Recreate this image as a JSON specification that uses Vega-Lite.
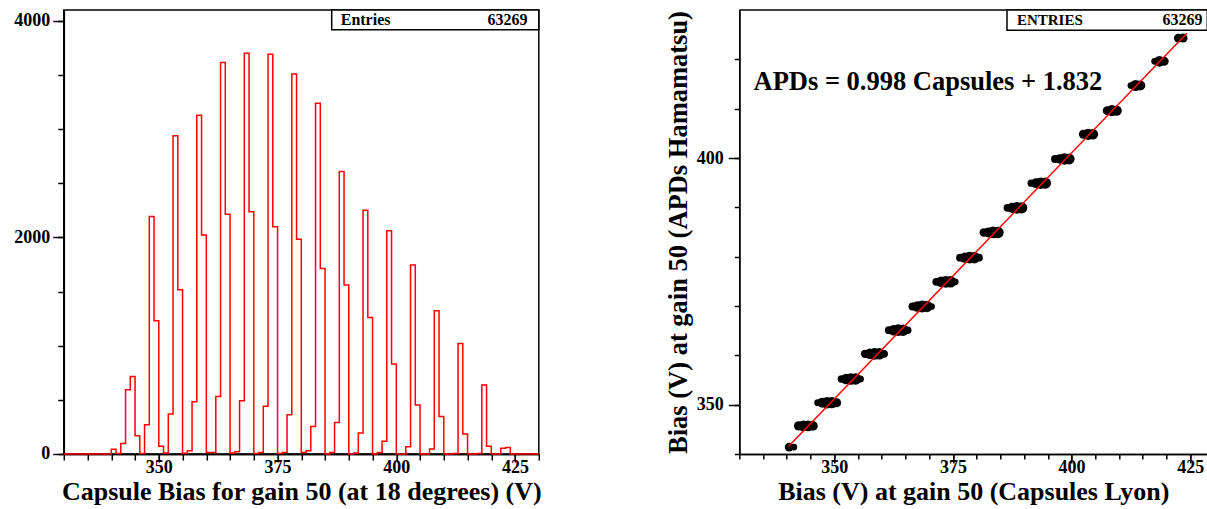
{
  "$schema": "https://vega.github.io/schema/vega-lite/v6.json",
  "background": "white",
  "padding": {"left": 12.8, "top": 8, "right": 0, "bottom": 0},
  "spacing": 122.5,
  "config": {
    "font": "Liberation Serif",
    "view": {"stroke": "black", "strokeWidth": 1.5},
    "axis": {
      "grid": false,
      "domainColor": "black",
      "domainWidth": 1.5,
      "tickColor": "black",
      "tickWidth": 1.5,
      "labelFont": "Liberation Serif",
      "labelFontWeight": "bold",
      "labelFontSize": 18,
      "labelColor": "black",
      "titleFont": "Liberation Serif",
      "titleFontWeight": "bold",
      "titleFontSize": 26,
      "titleColor": "black",
      "labelOverlap": false,
      "labelFlush": false
    }
  },
  "datasets": {
    "hist": [
      {"bias": 330, "entries": 0}, {"bias": 331, "entries": 0}, {"bias": 332, "entries": 0}, {"bias": 333, "entries": 0},
      {"bias": 334, "entries": 0}, {"bias": 335, "entries": 0}, {"bias": 336, "entries": 0}, {"bias": 337, "entries": 0},
      {"bias": 338, "entries": 0}, {"bias": 339, "entries": 0}, {"bias": 340, "entries": 45}, {"bias": 341, "entries": 5},
      {"bias": 342, "entries": 98}, {"bias": 343, "entries": 593}, {"bias": 344, "entries": 716}, {"bias": 345, "entries": 169},
      {"bias": 346, "entries": 5}, {"bias": 347, "entries": 270}, {"bias": 348, "entries": 2193}, {"bias": 349, "entries": 1230},
      {"bias": 350, "entries": 71}, {"bias": 351, "entries": 10}, {"bias": 352, "entries": 369}, {"bias": 353, "entries": 2938},
      {"bias": 354, "entries": 1517}, {"bias": 355, "entries": 8}, {"bias": 356, "entries": 31}, {"bias": 357, "entries": 483},
      {"bias": 358, "entries": 3129}, {"bias": 359, "entries": 2022}, {"bias": 360, "entries": 15}, {"bias": 361, "entries": 15},
      {"bias": 362, "entries": 532}, {"bias": 363, "entries": 3615}, {"bias": 364, "entries": 2215}, {"bias": 365, "entries": 10},
      {"bias": 366, "entries": 20}, {"bias": 367, "entries": 492}, {"bias": 368, "entries": 3701}, {"bias": 369, "entries": 2237},
      {"bias": 370, "entries": 5}, {"bias": 371, "entries": 15}, {"bias": 372, "entries": 440}, {"bias": 373, "entries": 3692},
      {"bias": 374, "entries": 2098}, {"bias": 375, "entries": 5}, {"bias": 376, "entries": 15}, {"bias": 377, "entries": 363},
      {"bias": 378, "entries": 3508}, {"bias": 379, "entries": 1984}, {"bias": 380, "entries": 15}, {"bias": 381, "entries": 31},
      {"bias": 382, "entries": 255}, {"bias": 383, "entries": 3240}, {"bias": 384, "entries": 1713}, {"bias": 385, "entries": 0},
      {"bias": 386, "entries": 15}, {"bias": 387, "entries": 292}, {"bias": 388, "entries": 2609}, {"bias": 389, "entries": 1560},
      {"bias": 390, "entries": 0}, {"bias": 391, "entries": 10}, {"bias": 392, "entries": 194}, {"bias": 393, "entries": 2252},
      {"bias": 394, "entries": 1261}, {"bias": 395, "entries": 0}, {"bias": 396, "entries": 15}, {"bias": 397, "entries": 117},
      {"bias": 398, "entries": 2061}, {"bias": 399, "entries": 831}, {"bias": 400, "entries": 0}, {"bias": 401, "entries": 0},
      {"bias": 402, "entries": 68}, {"bias": 403, "entries": 1745}, {"bias": 404, "entries": 452}, {"bias": 405, "entries": 0},
      {"bias": 406, "entries": 0}, {"bias": 407, "entries": 46}, {"bias": 408, "entries": 1323}, {"bias": 409, "entries": 347},
      {"bias": 410, "entries": 0}, {"bias": 411, "entries": 0}, {"bias": 412, "entries": 5}, {"bias": 413, "entries": 1021},
      {"bias": 414, "entries": 185}, {"bias": 415, "entries": 0}, {"bias": 416, "entries": 0}, {"bias": 417, "entries": 5},
      {"bias": 418, "entries": 637}, {"bias": 419, "entries": 71}, {"bias": 420, "entries": 0}, {"bias": 421, "entries": 0},
      {"bias": 422, "entries": 52}, {"bias": 423, "entries": 61}, {"bias": 424, "entries": 0}, {"bias": 425, "entries": 0},
      {"bias": 426, "entries": 0}, {"bias": 427, "entries": 0}, {"bias": 428, "entries": 0}, {"bias": 429, "entries": 0},
      {"bias": 430, "entries": 0}
    ],
    "scatter": [
      {"capsule": 340.5, "apd": 341.4, "n": 45}, {"capsule": 341.5, "apd": 341.4, "n": 5},
      {"capsule": 342.5, "apd": 345.7, "n": 98}, {"capsule": 343.5, "apd": 345.7, "n": 593}, {"capsule": 344.5, "apd": 345.7, "n": 716}, {"capsule": 345.5, "apd": 345.7, "n": 169},
      {"capsule": 346.5, "apd": 350.4, "n": 5}, {"capsule": 347.5, "apd": 350.4, "n": 270}, {"capsule": 348.5, "apd": 350.4, "n": 2193}, {"capsule": 349.5, "apd": 350.4, "n": 1230}, {"capsule": 350.5, "apd": 350.4, "n": 71},
      {"capsule": 351.5, "apd": 355.2, "n": 10}, {"capsule": 352.5, "apd": 355.2, "n": 369}, {"capsule": 353.5, "apd": 355.2, "n": 2938}, {"capsule": 354.5, "apd": 355.2, "n": 1517}, {"capsule": 355.5, "apd": 355.2, "n": 8},
      {"capsule": 356.5, "apd": 360.3, "n": 31}, {"capsule": 357.5, "apd": 360.3, "n": 483}, {"capsule": 358.5, "apd": 360.3, "n": 3129}, {"capsule": 359.5, "apd": 360.3, "n": 2022}, {"capsule": 360.5, "apd": 360.3, "n": 15},
      {"capsule": 361.5, "apd": 365.1, "n": 15}, {"capsule": 362.5, "apd": 365.1, "n": 532}, {"capsule": 363.5, "apd": 365.1, "n": 3615}, {"capsule": 364.5, "apd": 365.1, "n": 2215}, {"capsule": 365.5, "apd": 365.1, "n": 10},
      {"capsule": 366.5, "apd": 369.9, "n": 20}, {"capsule": 367.5, "apd": 369.9, "n": 492}, {"capsule": 368.5, "apd": 369.9, "n": 3701}, {"capsule": 369.5, "apd": 369.9, "n": 2237}, {"capsule": 370.5, "apd": 369.9, "n": 5},
      {"capsule": 371.5, "apd": 374.9, "n": 15}, {"capsule": 372.5, "apd": 374.9, "n": 440}, {"capsule": 373.5, "apd": 374.9, "n": 3692}, {"capsule": 374.5, "apd": 374.9, "n": 2098}, {"capsule": 375.5, "apd": 374.9, "n": 5},
      {"capsule": 376.5, "apd": 379.8, "n": 15}, {"capsule": 377.5, "apd": 379.8, "n": 363}, {"capsule": 378.5, "apd": 379.8, "n": 3508}, {"capsule": 379.5, "apd": 379.8, "n": 1984}, {"capsule": 380.5, "apd": 379.8, "n": 15},
      {"capsule": 381.5, "apd": 384.9, "n": 31}, {"capsule": 382.5, "apd": 384.9, "n": 255}, {"capsule": 383.5, "apd": 384.9, "n": 3240}, {"capsule": 384.5, "apd": 384.9, "n": 1713},
      {"capsule": 386.5, "apd": 389.9, "n": 15}, {"capsule": 387.5, "apd": 389.9, "n": 292}, {"capsule": 388.5, "apd": 389.9, "n": 2609}, {"capsule": 389.5, "apd": 389.9, "n": 1560},
      {"capsule": 391.5, "apd": 394.9, "n": 10}, {"capsule": 392.5, "apd": 394.9, "n": 194}, {"capsule": 393.5, "apd": 394.9, "n": 2252}, {"capsule": 394.5, "apd": 394.9, "n": 1261},
      {"capsule": 396.5, "apd": 399.8, "n": 15}, {"capsule": 397.5, "apd": 399.8, "n": 117}, {"capsule": 398.5, "apd": 399.8, "n": 2061}, {"capsule": 399.5, "apd": 399.8, "n": 831},
      {"capsule": 402.5, "apd": 404.8, "n": 68}, {"capsule": 403.5, "apd": 404.8, "n": 1745}, {"capsule": 404.5, "apd": 404.8, "n": 452},
      {"capsule": 407.5, "apd": 409.6, "n": 46}, {"capsule": 408.5, "apd": 409.6, "n": 1323}, {"capsule": 409.5, "apd": 409.6, "n": 347},
      {"capsule": 412.5, "apd": 414.7, "n": 5}, {"capsule": 413.5, "apd": 414.7, "n": 1021}, {"capsule": 414.5, "apd": 414.7, "n": 185},
      {"capsule": 417.5, "apd": 419.6, "n": 5}, {"capsule": 418.5, "apd": 419.6, "n": 637}, {"capsule": 419.5, "apd": 419.6, "n": 71},
      {"capsule": 422.5, "apd": 424.3, "n": 52}, {"capsule": 423.5, "apd": 424.3, "n": 61}
    ],
    "fit": [
      {"capsule": 340.4, "apd": 341.55},
      {"capsule": 424.3, "apd": 425.28}
    ]
  },
  "hconcat": [
    {
      "width": 475,
      "height": 444,
      "resolve": {"axis": {"x": "independent", "y": "independent"}},
      "layer": [
        {
          "data": {"name": "hist"},
          "mark": {"type": "line", "interpolate": "step-after", "color": "#ff0000", "strokeWidth": 1.5},
          "encoding": {
            "x": {
              "field": "bias", "type": "quantitative",
              "scale": {"domain": [330, 430], "nice": false, "zero": false},
              "axis": {
                "orient": "bottom",
                "title": null,
                "labels": false,
                "values": [330,335,340,345,350,355,360,365,370,375,380,385,390,395,400,405,410,415,420,425,430],
                "tickSize": 6
              }
            },
            "y": {
              "field": "entries", "type": "quantitative",
              "scale": {"domain": [0, 4100], "nice": false},
              "axis": {
                "orient": "left",
                "title": null,
                "labels": false,
                "values": [0,500,1000,1500,2000,2500,3000,3500,4000],
                "tickSize": 6
              }
            }
          }
        },
        {
          "data": {"values": [{}]},
          "mark": {"type": "rect", "fill": "white", "stroke": "black", "strokeWidth": 1.5},
          "encoding": {
            "x": {
              "datum": 386.4, "type": "quantitative",
              "axis": {
                "orient": "bottom",
                "title": "Capsule Bias for gain 50 (at 18 degrees) (V)",
                "values": [350, 375, 400, 425],
                "format": "d",
                "tickSize": 8,
                "labelPadding": -3,
                "titlePadding": 2
              }
            },
            "x2": {"datum": 430},
            "y": {
              "datum": 3917, "type": "quantitative",
              "axis": {
                "orient": "left",
                "title": null,
                "values": [0, 2000, 4000],
                "format": "d",
                "tickSize": 11,
                "labelPadding": 3
              }
            },
            "y2": {"datum": 4100}
          }
        },
        {
          "data": {"values": [{}]},
          "mark": {"type": "text", "align": "left", "baseline": "middle", "font": "Liberation Serif", "fontWeight": "bold", "fontSize": 16, "color": "black"},
          "encoding": {"x": {"datum": 388.3, "axis": null}, "y": {"datum": 4009, "axis": null}, "text": {"value": "Entries"}}
        },
        {
          "data": {"values": [{}]},
          "mark": {"type": "text", "align": "right", "baseline": "middle", "font": "Liberation Serif", "fontWeight": "bold", "fontSize": 16, "color": "black"},
          "encoding": {"x": {"datum": 427.6, "axis": null}, "y": {"datum": 4009, "axis": null}, "text": {"value": "63269"}}
        }
      ]
    },
    {
      "width": 468,
      "height": 444,
      "view": {"stroke": null},
      "resolve": {"axis": {"x": "independent", "y": "independent"}},
      "layer": [
        {
          "data": {"name": "scatter"},
          "mark": {"type": "circle", "color": "black", "opacity": 1},
          "encoding": {
            "x": {
              "field": "capsule", "type": "quantitative",
              "scale": {"domain": [330, 428.6], "nice": false, "zero": false},
              "axis": {
                "orient": "bottom",
                "title": null,
                "labels": false,
                "values": [330,335,340,345,350,355,360,365,370,375,380,385,390,395,400,405,410,415,420,425],
                "tickSize": 5
              }
            },
            "y": {
              "field": "apd", "type": "quantitative",
              "scale": {"domain": [340, 430], "nice": false, "zero": false},
              "axis": {
                "orient": "left",
                "title": null,
                "labels": false,
                "values": [340,350,360,370,380,390,400,410,420],
                "tickSize": 5
              }
            },
            "size": {
              "field": "n", "type": "quantitative",
              "scale": {"type": "log", "domain": [5, 3700], "range": [45, 140]},
              "legend": null
            }
          }
        },
        {
          "data": {"name": "fit"},
          "mark": {"type": "line", "color": "#ff0000", "strokeWidth": 1.5},
          "encoding": {
            "x": {"field": "capsule", "type": "quantitative", "axis": null},
            "y": {"field": "apd", "type": "quantitative", "axis": null}
          }
        },
        {
          "data": {"values": [{}]},
          "mark": {"type": "rule", "color": "black", "strokeWidth": 1.5},
          "encoding": {"y": {"datum": 430, "axis": null}}
        },
        {
          "data": {"values": [{}]},
          "mark": {"type": "rect", "fill": "white", "stroke": "black", "strokeWidth": 1.5},
          "encoding": {
            "x": {
              "datum": 386.4, "type": "quantitative",
              "axis": {
                "orient": "bottom",
                "title": "Bias (V) at gain 50 (Capsules Lyon)",
                "values": [350, 375, 400, 425],
                "format": "d",
                "tickSize": 9,
                "labelPadding": -4,
                "titlePadding": 2
              }
            },
            "x2": {"datum": 428.6},
            "y": {
              "datum": 425.9, "type": "quantitative",
              "axis": {
                "orient": "left",
                "title": "Bias (V) at gain 50 (APDs Hamamatsu)",
                "titleFontSize": 26.5,
                "values": [350, 400],
                "format": "d",
                "tickSize": 11,
                "labelPadding": 5,
                "titlePadding": 4
              }
            },
            "y2": {"datum": 430}
          }
        },
        {
          "data": {"values": [{}]},
          "mark": {"type": "text", "align": "left", "baseline": "middle", "font": "Liberation Serif", "fontWeight": "bold", "fontSize": 15, "color": "black"},
          "encoding": {"x": {"datum": 388.5, "axis": null}, "y": {"datum": 428.0, "axis": null}, "text": {"value": "ENTRIES"}}
        },
        {
          "data": {"values": [{}]},
          "mark": {"type": "text", "align": "right", "baseline": "middle", "font": "Liberation Serif", "fontWeight": "bold", "fontSize": 16, "color": "black"},
          "encoding": {"x": {"datum": 427.6, "axis": null}, "y": {"datum": 428.0, "axis": null}, "text": {"value": "63269"}}
        },
        {
          "data": {"values": [{}]},
          "mark": {"type": "text", "align": "left", "baseline": "middle", "font": "Liberation Serif", "fontWeight": "bold", "fontSize": 26.5, "color": "black"},
          "encoding": {"x": {"datum": 333, "axis": null}, "y": {"datum": 415.5, "axis": null}, "text": {"value": "APDs = 0.998 Capsules + 1.832"}}
        }
      ]
    }
  ]
}
